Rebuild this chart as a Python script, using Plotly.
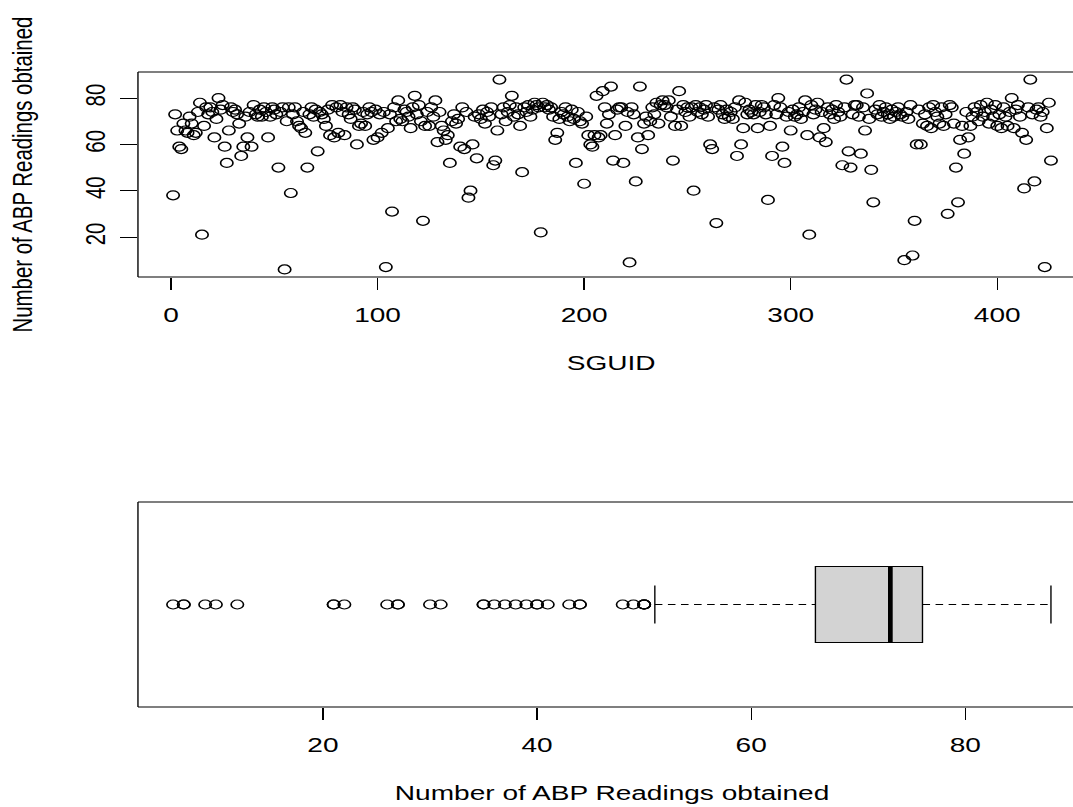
import numpy as np
import plotly.graph_objects as go

# ---- data -------------------------------------------------------------
sguid = list(range(1, 427))

abp_readings = [
    38, 73, 66, 59, 58, 69, 66, 65, 72, 69,
    64, 65, 74, 78, 21, 68, 76, 73, 76, 74,
    63, 71, 80, 75, 77, 59, 52, 66, 76, 74,
    75, 73, 69, 55, 59, 72, 63, 74, 59, 77,
    73, 72, 75, 72, 76, 74, 63, 72, 76, 75,
    73, 50, 74, 76, 6, 70, 76, 39, 73, 76,
    70, 68, 67, 74, 65, 50, 73, 76, 72, 75,
    57, 74, 73, 71, 68, 75, 64, 77, 63, 76,
    65, 77, 74, 64, 76, 73, 71, 76, 75, 60,
    68, 69, 74, 68, 73, 76, 74, 62, 75, 63,
    73, 65, 74, 7, 67, 73, 31, 76, 70, 79,
    71, 70, 75, 74, 72, 67, 76, 81, 73, 77,
    70, 27, 68, 74, 68, 76, 72, 79, 61, 74,
    68, 66, 62, 64, 52, 70, 73, 69, 71, 59,
    76, 58, 74, 37, 40, 60, 72, 54, 73, 71,
    75, 69, 74, 72, 76, 51, 53, 66, 88, 73,
    76, 70, 74, 77, 81, 72, 76, 73, 68, 48,
    76, 74, 77, 72, 75, 78, 77, 76, 22, 78,
    76, 77, 75, 76, 72, 62, 65, 71, 74, 73,
    76, 72, 70, 75, 71, 52, 74, 70, 69, 43,
    72, 64, 60, 59, 64, 81, 63, 64, 83, 76,
    69, 73, 85, 53, 64, 75, 76, 76, 52, 68,
    74, 9, 76, 73, 44, 63, 85, 58, 69, 72,
    64, 70, 76, 73, 78, 69, 77, 79, 77, 76,
    79, 72, 53, 68, 75, 83, 68, 77, 74, 76,
    72, 76, 40, 77, 74, 76, 73, 75, 77, 72,
    60, 58, 76, 26, 75, 77, 73, 71, 75, 72,
    74, 71, 76, 55, 79, 60, 67, 78, 73, 75,
    74, 73, 77, 67, 74, 77, 76, 73, 36, 68,
    55, 77, 73, 80, 76, 59, 52, 72, 74, 66,
    75, 72, 73, 76, 71, 74, 79, 64, 21, 77,
    73, 75, 78, 63, 74, 67, 61, 76, 73, 75,
    71, 77, 74, 72, 51, 76, 88, 57, 50, 73,
    77, 77, 72, 56, 76, 66, 82, 71, 49, 35,
    75, 73, 77, 72, 74, 76, 73, 71, 75, 72,
    74, 76, 73, 72, 10, 74, 71, 77, 12, 27,
    60, 75, 60, 69, 73, 68, 76, 67, 77, 74,
    72, 69, 76, 68, 73, 30, 77, 76, 69, 50,
    35, 62, 68, 56, 74, 63, 68, 72, 76, 74,
    70, 77, 72, 74, 78, 69, 75, 72, 77, 68,
    73, 67, 76, 72, 68, 74, 80, 67, 75, 77,
    72, 65, 41, 62, 76, 88, 73, 44, 75, 76,
    72, 74, 7, 67, 78, 53,
]

sguid_ticks = [0, 100, 200, 300, 400]
reading_ticks = [20, 40, 60, 80]

x_title = "SGUID"
y_title = "Number of ABP Readings obtained"

# ---- page geometry ------------------------------------------------------
# The figure is laid out on a narrower canvas and then widened horizontally
# (scaleX) to fill the 1073 px page, so x positions below are pre-stretch.
PAGE_W, H = 1073, 807
W = 780
SX = PAGE_W / W
LINE = 24.46                      # one margin line, px
LEFT = 4.1 * LINE                 # left edge of both plot regions
RIGHT = 789.5                     # right edge (lies beyond the page)
TOP_PANEL = (72, 277)
BOT_PANEL = (502, 707)
FS = 20.4
FONT = dict(family="Liberation Sans, Arial, sans-serif", size=FS, color="black")


def padded(lo, hi, frac=0.04):
    d = (hi - lo) * frac
    return lo - d, hi + d


def visible_range(lo, hi):
    # keep only the part of the plot region that falls inside the page
    lo, hi = padded(lo, hi)
    vis = (W - LEFT) / (RIGHT - LEFT)
    return [lo, lo + (hi - lo) * vis]


def ydom(panel):
    return [1 - panel[1] / H, 1 - panel[0] / H]


def fivenum(v):
    s = np.sort(np.asarray(v, dtype=float))
    n = len(s)
    n4 = np.floor((n + 3) / 2) / 2
    d = np.array([1, n4, (n + 1) / 2, n + 1 - n4, n]) - 1
    return 0.5 * (s[np.floor(d).astype(int)] + s[np.ceil(d).astype(int)])


vals = np.asarray(abp_readings, dtype=float)
_, q1, med, q3, _ = fivenum(vals)
iqr = q3 - q1
w_lo = vals[vals >= q1 - 1.5 * iqr].min()
w_hi = vals[vals <= q3 + 1.5 * iqr].max()
outliers = vals[(vals < w_lo) | (vals > w_hi)]

marker = dict(symbol="circle-open", size=9, color="black",
              line=dict(width=1.2, color="black"))

fig = go.Figure()

# scatter of readings by SGUID
fig.add_trace(go.Scatter(
    x=sguid, y=abp_readings, mode="markers", marker=marker,
    xaxis="x", yaxis="y", showlegend=False, hoverinfo="skip",
))

# outliers of the horizontal box plot
fig.add_trace(go.Scatter(
    x=outliers, y=[1] * len(outliers), mode="markers", marker=marker,
    xaxis="x2", yaxis="y2", showlegend=False, hoverinfo="skip",
))

shapes = []
line_k = dict(color="black", width=1)
dash_k = dict(color="black", width=1, dash="5.5px,4px")
# box plot: whiskers, staples, box and median
shapes += [
    dict(type="line", xref="x2", yref="y2", x0=w_lo, x1=q1, y0=1, y1=1, line=dash_k),
    dict(type="line", xref="x2", yref="y2", x0=q3, x1=w_hi, y0=1, y1=1, line=dash_k),
    dict(type="line", xref="x2", yref="y2", x0=w_lo, x1=w_lo, y0=0.9, y1=1.1, line=line_k),
    dict(type="line", xref="x2", yref="y2", x0=w_hi, x1=w_hi, y0=0.9, y1=1.1, line=line_k),
    dict(type="rect", xref="x2", yref="y2", x0=q1, x1=q3, y0=0.8, y1=1.2,
         fillcolor="#D3D3D3", line=line_k, layer="above"),
    dict(type="line", xref="x2", yref="y2", x0=med, x1=med, y0=0.8, y1=1.2,
         line=dict(color="black", width=3.4)),
]

# panel frames (left, top and bottom edges; the right edge is off the page)
for panel in (TOP_PANEL, BOT_PANEL):
    y0, y1 = 1 - panel[1] / H, 1 - panel[0] / H
    x0 = LEFT / W
    shapes += [
        dict(type="line", xref="paper", yref="paper", x0=x0, x1=1, y0=y1, y1=y1, line=line_k),
        dict(type="line", xref="paper", yref="paper", x0=x0, x1=1, y0=y0, y1=y0, line=line_k),
        dict(type="line", xref="paper", yref="paper", x0=x0, x1=x0, y0=y0, y1=y1, line=line_k),
    ]

axis_common = dict(showgrid=False, zeroline=False, showline=False, ticks="outside",
                   ticklen=12, tickwidth=1, tickcolor="black", tickfont=FONT)

xmid = (LEFT + RIGHT) / 2 / W
annotations = [
    dict(text=x_title, x=xmid, y=1 - 363 / H, xref="paper", yref="paper",
         showarrow=False, font=FONT, xanchor="center", yanchor="middle"),
    dict(text=y_title, x=17 / W, y=1 - (TOP_PANEL[0] + TOP_PANEL[1]) / 2 / H,
         xref="paper", yref="paper", textangle=-90, showarrow=False, font=FONT,
         xanchor="center", yanchor="middle"),
    dict(text=y_title, x=xmid, y=1 - 793 / H, xref="paper", yref="paper",
         showarrow=False, font=FONT, xanchor="center", yanchor="middle"),
]

fig.update_layout(
    width=W, height=H,
    margin=dict(l=0, r=0, t=0, b=0),
    paper_bgcolor="white", plot_bgcolor="white",
    font=FONT,
    xaxis=dict(domain=[LEFT / W, 1], anchor="y",
               range=visible_range(min(sguid), max(sguid)),
               tickvals=sguid_ticks, ticktext=[str(t) for t in sguid_ticks],
               ticklabelstandoff=8, **axis_common),
    yaxis=dict(domain=ydom(TOP_PANEL), anchor="x",
               range=list(padded(vals.min(), vals.max())),
               tickvals=reading_ticks, ticktext=[str(t) for t in reading_ticks],
               tickangle=-90, ticklabelstandoff=3, **axis_common),
    xaxis2=dict(domain=[LEFT / W, 1], anchor="y2",
                range=visible_range(vals.min(), vals.max()),
                tickvals=reading_ticks, ticktext=[str(t) for t in reading_ticks],
                ticklabelstandoff=8, **axis_common),
    yaxis2=dict(domain=ydom(BOT_PANEL), anchor="x2",
                range=list(padded(0.5, 1.5)), showticklabels=False,
                showgrid=False, zeroline=False, showline=False, ticks=""),
    shapes=shapes,
    annotations=annotations,
)

stretch_js = (
    "document.documentElement.style.overflow='hidden';"
    "document.body.style.margin='0';"
    "var gd=document.getElementById('{plot_id}');"
    "gd.style.transformOrigin='0 0';"
    "gd.style.transform='scaleX(%.5f)';" % SX
)

fig.write_html("out.html", post_script=stretch_js)
